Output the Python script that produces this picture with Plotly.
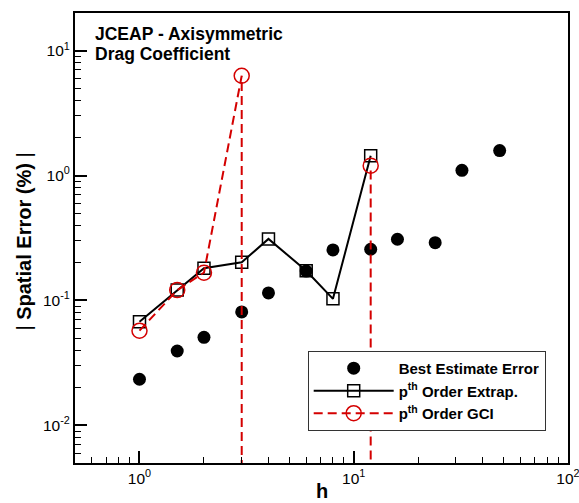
import plotly.graph_objects as go

# ---- data ----
h = [1, 1.5, 2, 3, 4, 6, 8, 12, 16, 24, 32, 48]
best_estimate_error = [0.0234, 0.0394, 0.0507, 0.081, 0.115, 0.172, 0.254, 0.257, 0.309, 0.29, 1.10, 1.585]

h_order = [1, 1.5, 2, 3, 4, 6, 8, 12]
pth_order_extrap = [0.0676, 0.121, 0.181, 0.202, 0.311, 0.173, 0.103, 1.44]
# 0 = not defined (line drops off the bottom of the log axis)
pth_order_gci = [0.0573, 0.121, 0.167, 6.29, 0, 0, 0, 1.20]

y_tickvals = [0.01, 0.1, 1, 10]
y_ticktext = ["10<sup>-2</sup>", "10<sup>-1</sup>", "10<sup>0</sup>", "10<sup>1</sup>"]
x_tickvals = [1, 10, 100]
x_ticktext = ["10<sup>0</sup>", "10<sup>1</sup>", "10<sup>2</sup>"]

FONT = "Liberation Sans, Arial, sans-serif"
RED = "#d40000"

# Build GCI path: undefined values drop vertically to far below the axis
FLOOR = 1e-4
gx, gy = [], []
n = len(h_order)
for i in range(n):
    v = pth_order_gci[i]
    if v > 0:
        gx.append(h_order[i]); gy.append(v)
    else:
        if i > 0 and pth_order_gci[i - 1] > 0:
            gx.append(h_order[i - 1]); gy.append(FLOOR)
        if i + 1 < n and pth_order_gci[i + 1] > 0:
            gx.append(h_order[i + 1]); gy.append(FLOOR)

fig = go.Figure()
fig.add_trace(go.Scatter(
    x=h, y=best_estimate_error, mode="markers", name="Best Estimate Error",
    marker=dict(symbol="circle", size=13, color="black", line=dict(width=0)),
))
fig.add_trace(go.Scatter(
    x=h_order, y=pth_order_extrap, mode="lines+markers",
    name="p<sup>th</sup> Order Extrap.",
    line=dict(color="black", width=2),
    marker=dict(symbol="square-open", size=12, color="black", line=dict(width=1.5, color="black")),
))
fig.add_trace(go.Scatter(
    x=gx, y=gy, mode="lines+markers",
    name="p<sup>th</sup> Order GCI",
    line=dict(color=RED, width=2, dash="9px,5px"),
    marker=dict(symbol="circle-open", size=15, color=RED, line=dict(width=1.5, color=RED)),
))

axis_common = dict(
    type="log", showgrid=False, zeroline=False, automargin=False,
    ticklabeloverflow="allow",
    showline=True, linewidth=2, linecolor="black", mirror=True,
    ticks="inside", ticklen=12, tickwidth=2, tickcolor="black",
    tickfont=dict(family=FONT, size=15.5, color="black"),
    minor=dict(ticks="inside", ticklen=6, tickwidth=1, tickcolor="black", dtick="D1", showgrid=False),
)

fig.update_xaxes(**axis_common, range=[-0.30103, 2.0002], tickmode="array",
                 tickvals=x_tickvals, ticktext=x_ticktext)
fig.update_yaxes(**axis_common, range=[-2.30103, 1.30103], tickmode="array",
                 tickvals=y_tickvals, ticktext=y_ticktext)

fig.update_layout(
    width=579, height=503,
    margin=dict(l=75, r=11, t=13, b=40),
    paper_bgcolor="white", plot_bgcolor="white",
    font=dict(family=FONT, color="black"),
    showlegend=True,
    legend=dict(
        x=0.472, y=0.249, xanchor="left", yanchor="top",
        bgcolor="white", bordercolor="#333333", borderwidth=1,
        font=dict(family=FONT, size=15, color="black", weight="bold"),
        itemwidth=80, tracegroupgap=0,
    ),
    annotations=[
        dict(text="JCEAP - Axisymmetric", xref="paper", yref="paper",
             x=0.036, y=(463 - 34) / 450, xanchor="left", yanchor="middle", align="left", showarrow=False,
             font=dict(family=FONT, size=17.5, color="black", weight="bold")),
        dict(text="Drag Coefficient", xref="paper", yref="paper",
             x=0.036, y=(463 - 54) / 450, xanchor="left", yanchor="middle", align="left", showarrow=False,
             font=dict(family=FONT, size=17.5, color="black", weight="bold")),
        dict(text="| <b>Spatial Error (%)</b> |", xref="paper", yref="paper",
             x=(24 - 75) / 493, y=0.492, xanchor="center", yanchor="middle", textangle=-90,
             showarrow=False, font=dict(family=FONT, size=20, color="black")),
        dict(text="<b>h</b>", xref="paper", yref="paper",
             x=(322 - 75) / 493, y=(463 - 491) / 450, xanchor="center", yanchor="middle",
             showarrow=False, font=dict(family=FONT, size=20, color="black")),
    ],
)

fig.write_html("out.html")
